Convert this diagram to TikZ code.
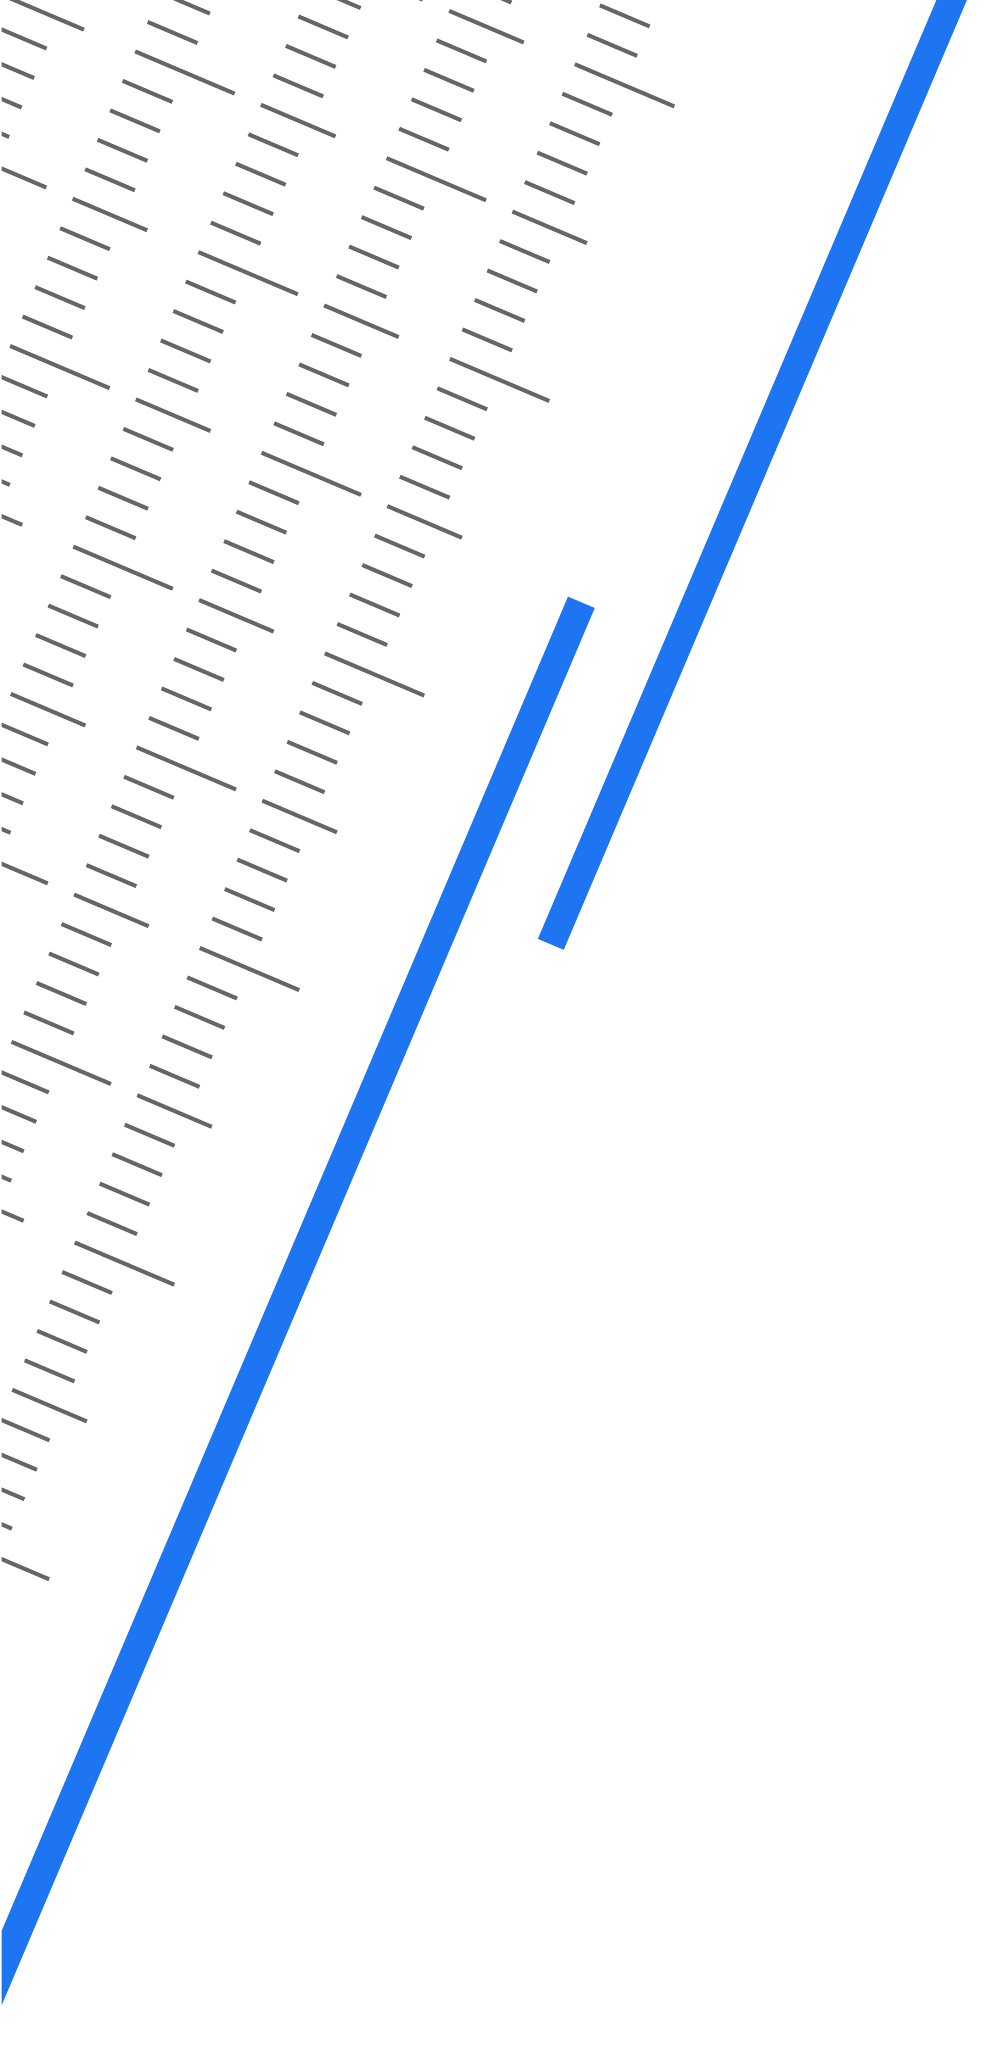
\documentclass[tikz,border=0pt]{standalone}
\definecolor{tickgray}{HTML}{666666}
\definecolor{barblue}{RGB}{30,117,242}
\tikzset{
  rulertick/.style={draw=tickgray, line width=4pt, line cap=butt},
  bluebar/.style={fill=barblue, draw=none},
}
\begin{document}
\begin{tikzpicture}[x=1pt,y=1pt]
\useasboundingbox (0,0) rectangle (1000,-2062);
\fill[white] (0,0) rectangle (1000,-2062);
\begin{scope}
\clip (1.5,0) rectangle (1000,-2062);
\begin{scope}[x={(0.92050pt,-0.39073pt)}, y={(-0.39073pt,-0.92050pt)}]
  \foreach \k in {0,...,4} {
    \pgfmathsetmacro{\uk}{554.3-136.6*\k}
    \foreach \n in {-10,...,60} {
      \pgfmathtruncatemacro{\m}{mod(\n+5*\k+20,10)}
      \pgfmathsetmacro{\len}{\m==5 ? 108 : (\m==0 ? 81 : 54)}
      \pgfmathsetmacro{\vv}{-5.5+32*\n}
      \draw[rulertick] (\uk,\vv) -- ++(\len,0);
    }
  }
  \fill[bluebar] (862,-600) -- (890,-600) -- (890,654) -- (862,654) -- cycle;
  \fill[bluebar] (756,327.3) -- (785,327.3) -- (785,2300) -- (756,2300) -- cycle;
\end{scope}
\end{scope}
\end{tikzpicture}
\end{document}
